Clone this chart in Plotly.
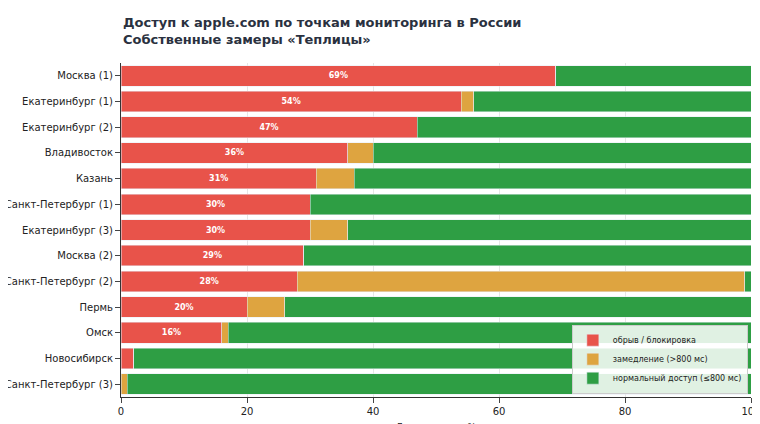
import plotly.graph_objects as go

points = ["Москва (1)", "Екатеринбург (1)", "Екатеринбург (2)", "Владивосток", "Казань",
          "Санкт-Петербург (1)", "Екатеринбург (3)", "Москва (2)", "Санкт-Петербург (2)",
          "Пермь", "Омск", "Новосибирск", "Санкт-Петербург (3)"]
blocked = [69, 54, 47, 36, 31, 30, 30, 29, 28, 20, 16, 2, 0]
slow = [0, 2, 0, 4, 6, 0, 6, 0, 71, 6, 1, 0, 1]
normal = [100 - b - s for b, s in zip(blocked, slow)]

labels = [f"<b>{b}%</b>" if b >= 10 else "" for b in blocked]

fig = go.Figure()
fig.add_trace(go.Bar(y=points, x=blocked, orientation="h", name="обрыв / блокировка",
                     marker_color="#e8534a", text=labels, textposition="inside",
                     insidetextanchor="middle",
                     textfont=dict(color="white", size=8, family="DejaVu Sans")))
fig.add_trace(go.Bar(y=points, x=slow, orientation="h", name="замедление (>800 мс)",
                     marker_color="#dea440"))
fig.add_trace(go.Bar(y=points, x=normal, orientation="h", name="нормальный доступ (≤800 мс)",
                     marker_color="#2e9e44"))

fig.update_layout(
    barmode="stack", bargap=0.2,
    width=760, height=424,
    paper_bgcolor="white", plot_bgcolor="white",
    margin=dict(l=113, r=17, t=55, b=35),
    font=dict(family="DejaVu Sans", size=10, color="#222"),
    legend=dict(x=0.995, y=0.01, xanchor="right", yanchor="bottom",
                bgcolor="rgba(255,255,255,0.85)", bordercolor="#ccc", borderwidth=1,
                font=dict(size=8), traceorder="normal", itemwidth=30,
                tracegroupgap=0),
    uniformtext=dict(minsize=8, mode="show"),
)
fig.add_annotation(text="<b>Доступ к apple.com по точкам мониторинга в России<br>Собственные замеры «Теплицы»</b>",
                   xref="paper", yref="paper", x=0, y=1.0, yshift=50,
                   xanchor="left", yanchor="top", align="left", showarrow=False,
                   font=dict(size=13, color="#2a3140"))
fig.update_xaxes(range=[0, 100], dtick=20, showgrid=True, gridcolor="#e6e6e6",
                 title=dict(text="Доля замеров, %", font=dict(size=9)),
                 showline=True, linecolor="#333", ticks="outside", zeroline=False,
                 automargin=False)
fig.update_yaxes(autorange="reversed", showline=True, linecolor="#333",
                 ticks="outside", tickfont=dict(size=10), automargin=False)

fig.write_html("out.html")
